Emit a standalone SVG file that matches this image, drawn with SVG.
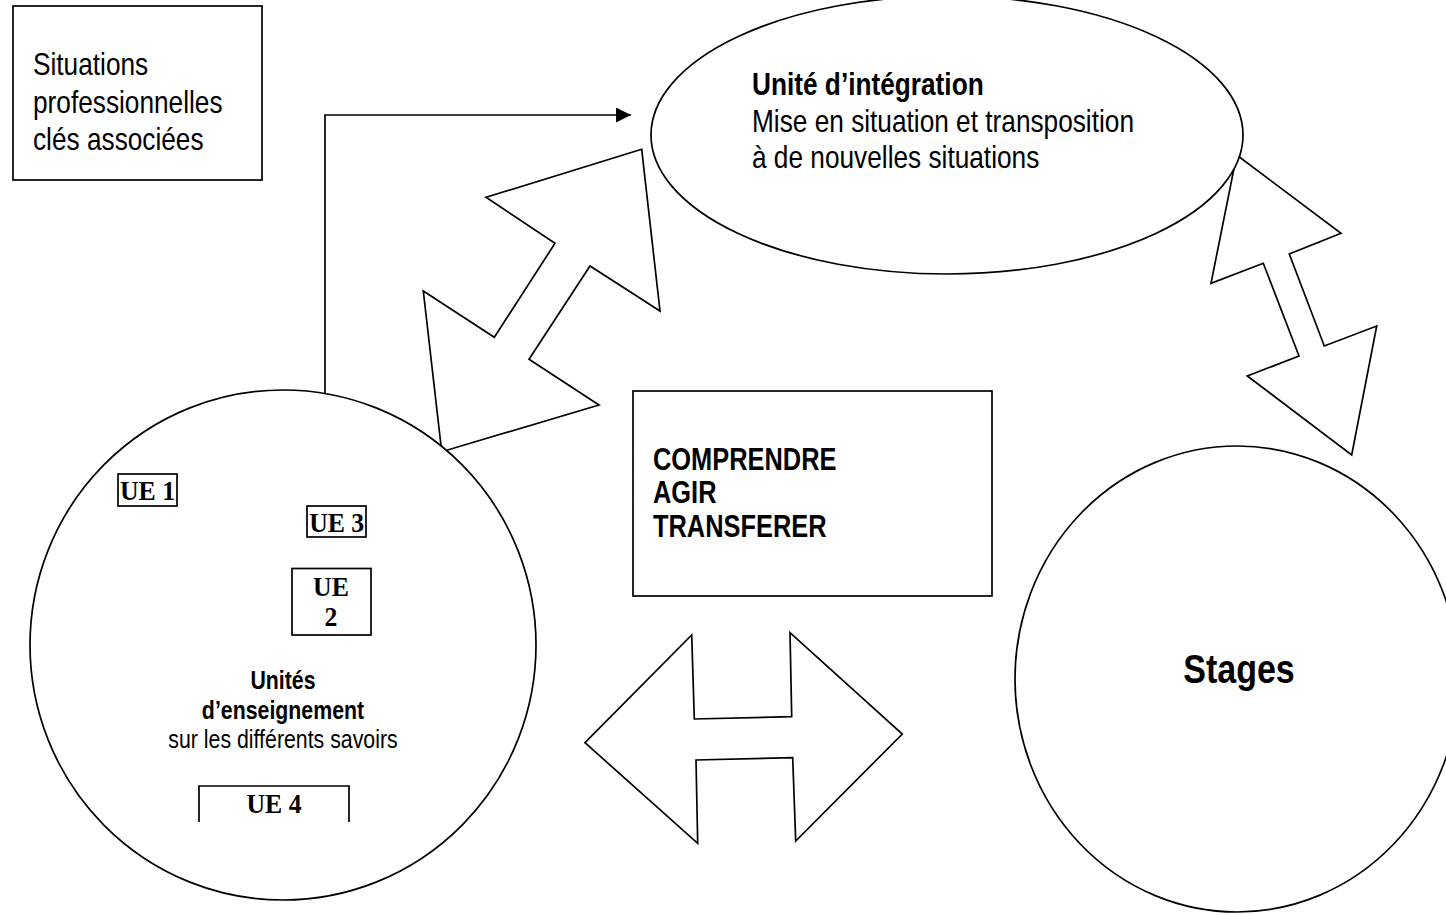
<svg xmlns="http://www.w3.org/2000/svg" width="1446" height="915" viewBox="0 0 1446 915">
<defs>
<style>
.shape{fill:#fff;stroke:#000;stroke-width:1.7}
.line{fill:none;stroke:#000;stroke-width:1.7}
.sans{font-family:"Liberation Sans",Arial,sans-serif;fill:#000}
.b{font-weight:bold}
.serif{font-family:"Liberation Serif","Times New Roman",serif;font-weight:bold;fill:#000;font-size:28px}
.mid{text-anchor:middle}
</style>
<marker id="arrow" markerUnits="userSpaceOnUse" markerWidth="16" markerHeight="16" refX="15" refY="7.5" orient="auto">
<path d="M0,0 L15,7.5 L0,15 Z" fill="#000"/>
</marker>
</defs>
<rect width="1446" height="915" fill="#fff"/>

<g id="connectors">
<path class="line" d="M325,394 V115 H631" marker-end="url(#arrow)"/>
<polygon id="arrow-diag" class="shape" points="641.7,149.3 486,197.3 555,243.3 494.3,337.3 423.3,291 441.7,451.7 599,405 529,359.3 590,266 660,311"/>
<polygon id="arrow-right" class="shape" points="1236.7,155 1341,233.3 1289.3,254 1324.3,346 1376.7,326 1351.7,455 1247.3,376 1299,356 1263.3,263.3 1211,283.3"/>
<polygon id="arrow-horiz" class="shape" points="585,742.7 691.7,635 694.3,719 791.7,716.7 790,632.7 902.3,734 795.7,841 792.7,757.7 696,760 697.7,843.3"/>
</g>

<g id="situations">
<rect class="shape" x="13" y="6" width="249" height="174"/>
<text class="sans" font-size="32" transform="translate(33,75) scale(0.82,1)">Situations</text>
<text class="sans" font-size="32" transform="translate(33,113) scale(0.82,1)">professionnelles</text>
<text class="sans" font-size="32" transform="translate(33,150) scale(0.82,1)">clés associées</text>
</g>

<g id="integration">
<ellipse class="shape" cx="947" cy="135" rx="296" ry="139"/>
<text class="sans b" font-size="32" transform="translate(752,95) scale(0.82,1)">Unité d’intégration</text>
<text class="sans" font-size="32" transform="translate(752,132) scale(0.82,1)">Mise en situation et transposition</text>
<text class="sans" font-size="32" transform="translate(752,168) scale(0.82,1)">à de nouvelles situations</text>
</g>

<g id="unites">
<ellipse class="shape" cx="283" cy="645" rx="253" ry="255"/>
<text class="sans b mid" font-size="26" transform="translate(283,689) scale(0.82,1)">Unités</text>
<text class="sans b mid" font-size="26" transform="translate(283,719) scale(0.82,1)">d’enseignement</text>
<text class="sans mid" font-size="26" transform="translate(283,748) scale(0.82,1)">sur les différents savoirs</text>
</g>

<g id="ue1">
<rect class="shape" x="118" y="474" width="59" height="32"/>
<text class="serif mid" transform="translate(147.5,500) scale(0.92,1)">UE 1</text>
</g>
<g id="ue3">
<rect class="shape" x="307" y="506" width="59" height="31"/>
<text class="serif mid" transform="translate(336.7,532) scale(0.92,1)">UE 3</text>
</g>
<g id="ue2">
<rect class="shape" x="292" y="568.5" width="79" height="66.5"/>
<text class="serif mid" transform="translate(331,596) scale(0.92,1)">UE</text>
<text class="serif mid" transform="translate(331,626) scale(0.92,1)">2</text>
</g>
<g id="ue4">
<path class="line" d="M199,822 V786 H349 V822"/>
<text class="serif mid" transform="translate(274,813) scale(0.92,1)">UE 4</text>
</g>

<g id="comprendre">
<rect class="shape" x="633" y="391" width="359" height="205"/>
<text class="sans b" font-size="31" transform="translate(653,469.5) scale(0.82,1)">COMPRENDRE</text>
<text class="sans b" font-size="31" transform="translate(653,503) scale(0.82,1)">AGIR</text>
<text class="sans b" font-size="31" transform="translate(653,537) scale(0.82,1)">TRANSFERER</text>
</g>

<g id="stages">
<ellipse class="shape" cx="1237" cy="679" rx="222" ry="233"/>
<text class="sans b mid" font-size="41.5" transform="translate(1239,683) scale(0.82,1)">Stages</text>
</g>
</svg>
